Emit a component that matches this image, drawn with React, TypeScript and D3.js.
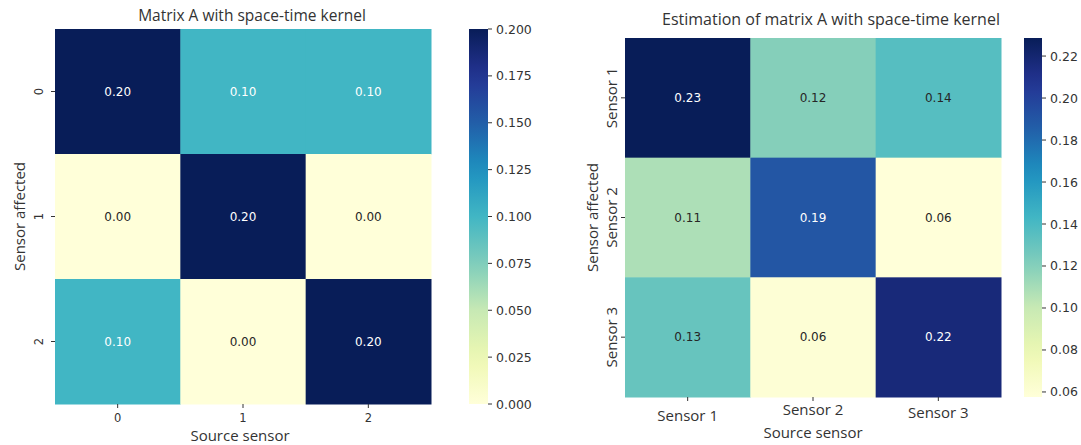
import React from "react";
import * as d3 from "d3";

const leftTitle = "Matrix A with space-time kernel";
const rightTitle = "Estimation of matrix A with space-time kernel";
const leftXLabels = ["0", "1", "2"];
const leftYLabels = ["0", "1", "2"];
const rightLabels = ["Sensor 1", "Sensor 2", "Sensor 3"];
const leftValues = [
  [0.2, 0.1, 0.1],
  [0.0, 0.2, 0.0],
  [0.1, 0.0, 0.2],
];
const rightValues = [
  [0.2286, 0.12, 0.136],
  [0.108, 0.19, 0.0576],
  [0.13, 0.06, 0.217],
];
const leftTicks = [0, 0.025, 0.05, 0.075, 0.1, 0.125, 0.15, 0.175, 0.2];
const rightTicks = [0.06, 0.08, 0.1, 0.12, 0.14, 0.16, 0.18, 0.2, 0.22];
const YLGNBU = ["#ffffd9", "#edf8b1", "#c7e9b4", "#7fcdbb", "#41b6c4", "#1d91c0", "#225ea8", "#253494", "#081d58"];

const NUM_FONT = "DejaVu Sans";
const LABEL_FONT = "Open Sans";
const TXT = "#333";

function makeColor(vmin: number, vmax: number) {
  const n = YLGNBU.length;
  return d3
    .scaleLinear<string>()
    .domain(YLGNBU.map((_, i) => vmin + ((vmax - vmin) * i) / (n - 1)))
    .range(YLGNBU)
    .interpolate(d3.interpolateRgb)
    .clamp(true);
}

function lum(c: string) {
  const rgb = d3.rgb(c);
  const f = (v: number) => {
    const s = v / 255;
    return s <= 0.03928 ? s / 12.92 : Math.pow((s + 0.055) / 1.055, 2.4);
  };
  return 0.2126 * f(rgb.r) + 0.7152 * f(rgb.g) + 0.0722 * f(rgb.b);
}

type HMProps = {
  id: string;
  values: number[][];
  xLabels: string[];
  yLabels: string[];
  x0: number;
  x1: number;
  y0: number;
  y1: number;
  vmin: number;
  vmax: number;
  ticks: number[];
  tickFmt: (v: number) => string;
  cbX: number;
  cbW: number;
  title: string;
  titleX: number;
  titleY: number;
  titleSize: number;
  xLabelY: number;
  xTickDy: number[];
  yLabelX: number;
  yTickLabelX: number;
  xAxisTitleY: number;
  xAxisTitleX: number;
  tickFont: string;
  tickSize: number;
};

function Heatmap(p: HMProps) {
  const n = p.values.length;
  const idx = d3.range(n).map(String);
  const x = d3.scaleBand().domain(idx).range([p.x0, p.x1]);
  const y = d3.scaleBand().domain(idx).range([p.y0, p.y1]);
  const color = makeColor(p.vmin, p.vmax);
  const cb = d3.scaleLinear().domain([p.vmin, p.vmax]).range([p.y1, p.y0]);
  const stops = d3.range(0, 1.0001, 0.05);
  const yMid = (p.y0 + p.y1) / 2;
  return (
    <g>
      <defs>
        <linearGradient id={p.id} x1="0" y1="1" x2="0" y2="0">
          {stops.map((t) => (
            <stop key={t} offset={t} stopColor={color(p.vmin + t * (p.vmax - p.vmin))} />
          ))}
        </linearGradient>
      </defs>
      <text x={p.titleX} y={p.titleY} textAnchor="middle" fontFamily={LABEL_FONT} fontSize={p.titleSize} fill={TXT}>
        {p.title}
      </text>
      {p.values.map((row, i) =>
        row.map((v, j) => {
          const c = color(v);
          return (
            <g key={i + "-" + j}>
              <rect x={x(String(j))} y={y(String(i))} width={x.bandwidth() + 0.5} height={y.bandwidth() + 0.5} fill={c} />
              <text
                x={(x(String(j)) as number) + x.bandwidth() / 2}
                y={(y(String(i)) as number) + y.bandwidth() / 2}
                textAnchor="middle"
                dominantBaseline="central"
                fontFamily={NUM_FONT}
                fontSize={12}
                fill={lum(c) < 0.408 ? "#ffffff" : "#262626"}
              >
                {v.toFixed(2)}
              </text>
            </g>
          );
        })
      )}
      {p.xLabels.map((l, j) => {
        const cx = (x(String(j)) as number) + x.bandwidth() / 2;
        return (
          <g key={"xt" + j}>
            <line x1={cx} x2={cx} y1={p.y1} y2={p.y1 + 4} stroke={TXT} strokeWidth={1} />
            <text x={cx} y={p.xLabelY + p.xTickDy[j]} textAnchor="middle" fontFamily={p.tickFont} fontSize={p.tickSize} fill={TXT}>
              {l}
            </text>
          </g>
        );
      })}
      {p.yLabels.map((l, i) => {
        const cy = (y(String(i)) as number) + y.bandwidth() / 2;
        return (
          <g key={"yt" + i}>
            <line x1={p.x0 - 4} x2={p.x0} y1={cy} y2={cy} stroke={TXT} strokeWidth={1} />
            <text
              transform={`translate(${p.yTickLabelX},${cy}) rotate(-90)`}
              textAnchor="middle"
              fontFamily={p.tickFont}
              fontSize={p.tickSize}
              fill={TXT}
            >
              {l}
            </text>
          </g>
        );
      })}
      <text x={p.xAxisTitleX} y={p.xAxisTitleY} textAnchor="middle" fontFamily={LABEL_FONT} fontSize={15} fill={TXT}>
        Source sensor
      </text>
      <text transform={`translate(${p.yLabelX},${yMid}) rotate(-90)`} textAnchor="middle" fontFamily={LABEL_FONT} fontSize={15} fill={TXT}>
        Sensor affected
      </text>
      <rect x={p.cbX} y={p.y0} width={p.cbW} height={p.y1 - p.y0} fill={`url(#${p.id})`} />
      {p.ticks.map((t) => (
        <g key={"cb" + t}>
          <line x1={p.cbX + p.cbW} x2={p.cbX + p.cbW + 4} y1={cb(t)} y2={cb(t)} stroke={TXT} strokeWidth={1} />
          <text x={p.cbX + p.cbW + 8} y={cb(t)} dominantBaseline="central" fontFamily={NUM_FONT} fontSize={12.5} fill={TXT}>
            {p.tickFmt(t)}
          </text>
        </g>
      ))}
    </g>
  );
}

export default function App() {
  const fmt3 = d3.format(".3f");
  const fmt2 = d3.format(".2f");
  return (
    <svg width={1081} height={445} style={{ position: "absolute", left: 0, top: 0, background: "#fff" }}>
      <rect width={1081} height={445} fill="#fff" />
      <Heatmap
        id="cbL"
        values={leftValues}
        xLabels={leftXLabels}
        yLabels={leftYLabels}
        x0={55}
        x1={431}
        y0={29}
        y1={404}
        vmin={0}
        vmax={0.2}
        ticks={leftTicks}
        tickFmt={fmt3}
        cbX={469}
        cbW={19}
        title={leftTitle}
        titleX={252}
        titleY={21}
        titleSize={15.5}
        xLabelY={422}
        xTickDy={[0, 0, 0]}
        yLabelX={25}
        yTickLabelX={43}
        xAxisTitleY={441}
        xAxisTitleX={240}
        tickFont={NUM_FONT}
        tickSize={11.5}
      />
      <Heatmap
        id="cbR"
        values={rightValues}
        xLabels={rightLabels}
        yLabels={rightLabels}
        x0={625}
        x1={1001}
        y0={38}
        y1={397}
        vmin={0.0576}
        vmax={0.2286}
        ticks={rightTicks}
        tickFmt={fmt2}
        cbX={1024}
        cbW={18}
        title={rightTitle}
        titleX={831}
        titleY={25}
        titleSize={16}
        xLabelY={420}
        xTickDy={[1, -5, -2]}
        yLabelX={598}
        yTickLabelX={617}
        xAxisTitleY={438}
        xAxisTitleX={813}
        tickFont={LABEL_FONT}
        tickSize={15}
      />
    </svg>
  );
}
